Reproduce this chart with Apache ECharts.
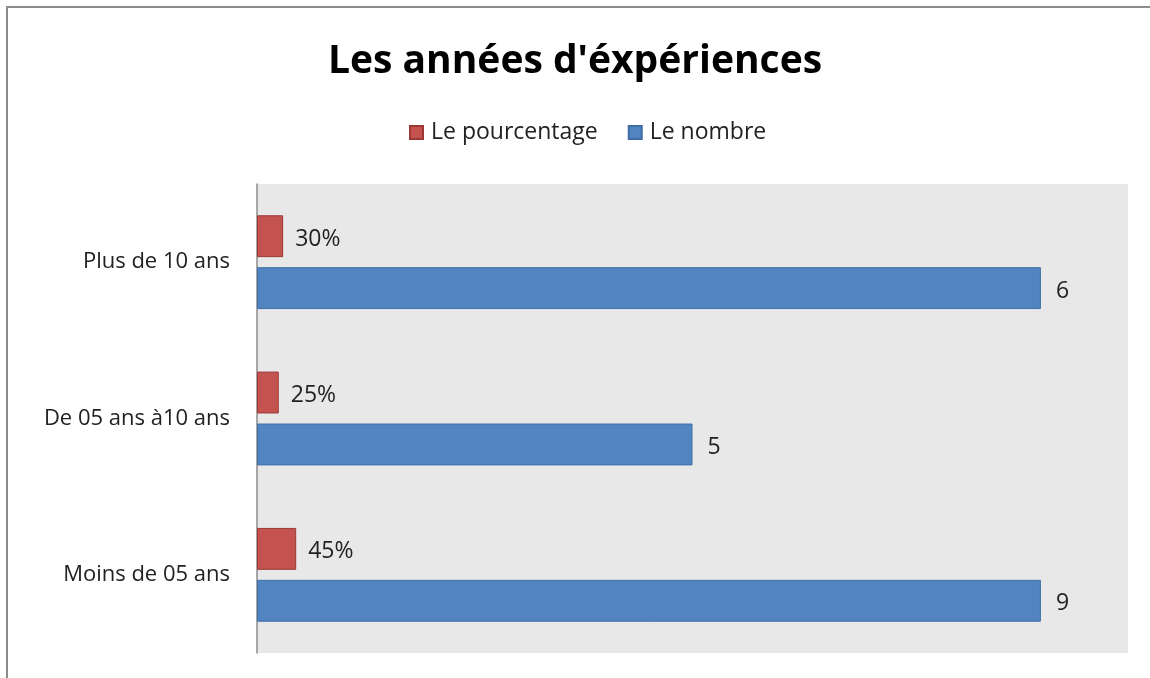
<!DOCTYPE html>
<html>
<head>
<meta charset="utf-8">
<script src="https://cdn.jsdelivr.net/npm/echarts@6/dist/echarts.min.js"></script>
<style>
  html, body { margin: 0; padding: 0; background: #fff; }
  #chart { width: 1150px; height: 678px; }
</style>
</head>
<body>
<div id="chart"></div>
<script>
// categories, bottom to top
var categories = ["Moins de 05 ans", "De 05 ans à10 ans", "Plus de 10 ans"];
// bar lengths as drawn in the picture
var nombre = [9, 5, 9];
var nombreLabels = ["9", "5", "6"];
var pourcentage = [0.45, 0.25, 0.30];
var pourcentageLabels = ["45%", "25%", "30%"];

var chart = echarts.init(document.getElementById("chart"));
var font = "'Open Sans', 'Noto Sans', sans-serif";

chart.setOption({
  animation: false,
  textStyle: { fontFamily: font },
  // cadre gris autour du graphique
  graphic: [{
    type: "rect",
    shape: { x: 7, y: 7, width: 1200, height: 700 },
    style: { fill: "none", stroke: "#8c8c8c", lineWidth: 2 },
    silent: true
  }],
  title: {
    text: "Les années d'éxpériences",
    left: "center",
    top: 37,
    textStyle: { fontSize: 39, fontWeight: "bold", color: "#000", fontFamily: font }
  },
  legend: {
    data: ["Le pourcentage", "Le nombre"],
    top: 116,
    left: 404,
    itemWidth: 13,
    itemHeight: 13,
    itemGap: 30,
    icon: "rect",
    textStyle: { fontSize: 23, color: "#222", fontFamily: font, padding: [0, 0, 0, 3] }
  },
  grid: {
    left: 257,
    right: 22,
    top: 184,
    bottom: 25,
    show: true,
    backgroundColor: "#e8e8e8",
    borderWidth: 0
  },
  xAxis: {
    type: "value",
    min: 0,
    max: 10,
    show: false
  },
  yAxis: {
    type: "category",
    data: categories,
    axisLine: { lineStyle: { color: "#8c8c8c", width: 1.5 } },
    axisTick: { show: false },
    axisLabel: { fontSize: 22, color: "#222", margin: 27, fontFamily: font }
  },
  series: [
    {
      name: "Le pourcentage",
      type: "bar",
      data: pourcentage,
      barGap: "24%",
      barCategoryGap: "40%",
      itemStyle: { color: "#c4534f", borderColor: "#9c3835", borderWidth: 1 },
      label: {
        show: true,
        position: "right",
        distance: 12,
        fontSize: 23,
        color: "#222",
        offset: [0, 3],
        formatter: function (p) { return pourcentageLabels[p.dataIndex]; }
      }
    },
    {
      name: "Le nombre",
      type: "bar",
      data: nombre,
      barGap: "24%",
      barCategoryGap: "40%",
      itemStyle: { color: "#5285c0", borderColor: "#3d6ea8", borderWidth: 1 },
      label: {
        show: true,
        position: "right",
        distance: 15,
        fontSize: 23,
        color: "#222",
        offset: [0, 3],
        formatter: function (p) { return nombreLabels[p.dataIndex]; }
      }
    }
  ]
});
</script>
</body>
</html>
